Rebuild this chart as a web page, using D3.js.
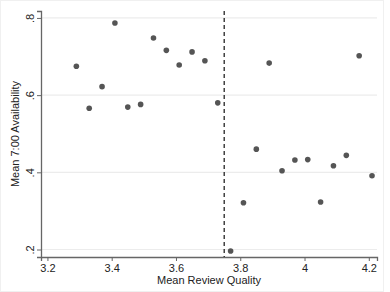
<!DOCTYPE html>
<html>
<head>
<meta charset="utf-8">
<script src="https://cdn.jsdelivr.net/npm/d3@7"></script>
<style>
  body { margin: 0; background: #fff; }
  svg { display: block; font-family: "Liberation Sans", Arial, sans-serif; }
</style>
</head>
<body>
<div id="container"></div>
<script>
// binned means
var quality = [3.29, 3.33, 3.37, 3.41, 3.45, 3.49, 3.53, 3.57, 3.61, 3.65, 3.69, 3.73,
               3.77, 3.81, 3.85, 3.89, 3.93, 3.97, 4.01, 4.05, 4.09, 4.13, 4.17, 4.21];
var availability = [0.675, 0.566, 0.622, 0.787, 0.569, 0.576, 0.748, 0.716, 0.678, 0.712, 0.689, 0.580,
                    0.196, 0.321, 0.460, 0.683, 0.404, 0.432, 0.433, 0.323, 0.417, 0.444, 0.702, 0.391];
var xTicks = [3.2, 3.4, 3.6, 3.8, 4, 4.2];
var yTicks = [0.2, 0.4, 0.6, 0.8];
var cutoff = 3.75;

var width = 390, height = 292;
var plotLeft = 41, plotRight = 377, plotTop = 11, plotBottom = 257;

var svg = d3.select("#container").append("svg")
    .attr("width", width)
    .attr("height", height);

// faint outer frame
svg.append("rect")
    .attr("x", 0.5).attr("y", 0.5)
    .attr("width", 383).attr("height", 291)
    .attr("fill", "#fff")
    .attr("stroke", "#f0f0f0");

var x = d3.scaleLinear().domain([3.180, 4.2255]).range([plotLeft, plotRight]);
var y = d3.scaleLinear().domain([0.1806, 0.818]).range([plotBottom, plotTop]);

// grid
svg.append("g")
    .selectAll("line")
    .data(yTicks)
    .enter().append("line")
    .attr("x1", plotLeft).attr("x2", plotRight)
    .attr("y1", function(d) { return y(d); })
    .attr("y2", function(d) { return y(d); })
    .attr("stroke", "#ececec")
    .attr("stroke-width", 1.2);

// axes
var xAxis = svg.append("g")
    .attr("transform", "translate(0," + plotBottom + ")")
    .call(d3.axisBottom(x).tickValues(xTicks).tickSize(4).tickPadding(3)
        .tickFormat(function(d) { return d3.format("")(d); }));
xAxis.select(".domain").attr("stroke", "#666").attr("stroke-width", 1.3);
xAxis.selectAll(".tick line").attr("stroke", "#666");
xAxis.selectAll("text").attr("font-size", 11).attr("fill", "#222");

var yAxis = svg.append("g")
    .attr("transform", "translate(" + plotLeft + ",0)")
    .call(d3.axisLeft(y).tickValues(yTicks).tickSize(4)
        .tickFormat(function(d) { return d3.format(".1f")(d).replace(/^0/, ""); }));
yAxis.select(".domain").attr("stroke", "#666").attr("stroke-width", 1.3);
yAxis.selectAll(".tick line").attr("stroke", "#666");
yAxis.selectAll("text")
    .attr("font-size", 11).attr("fill", "#222")
    .attr("x", 0).attr("dy", 0)
    .attr("text-anchor", "middle")
    .attr("transform", "translate(-7,0) rotate(-90)");

// cutoff line
svg.append("line")
    .attr("x1", x(cutoff)).attr("x2", x(cutoff))
    .attr("y1", plotTop).attr("y2", plotBottom)
    .attr("stroke", "#111")
    .attr("stroke-width", 1.2)
    .attr("stroke-dasharray", "4,3");

// points
svg.append("g")
    .selectAll("circle")
    .data(quality)
    .enter().append("circle")
    .attr("cx", function(d) { return x(d); })
    .attr("cy", function(d, i) { return y(availability[i]); })
    .attr("r", 2.8)
    .attr("fill", "#555");

// titles
svg.append("text")
    .attr("x", (plotLeft + plotRight) / 2).attr("y", 284)
    .attr("text-anchor", "middle")
    .attr("font-size", 11).attr("fill", "#222")
    .text("Mean Review Quality");

svg.append("text")
    .attr("transform", "translate(19," + (plotTop + plotBottom) / 2 + ") rotate(-90)")
    .attr("text-anchor", "middle")
    .attr("font-size", 11).attr("fill", "#222")
    .text("Mean 7:00 Availability");
</script>
</body>
</html>
